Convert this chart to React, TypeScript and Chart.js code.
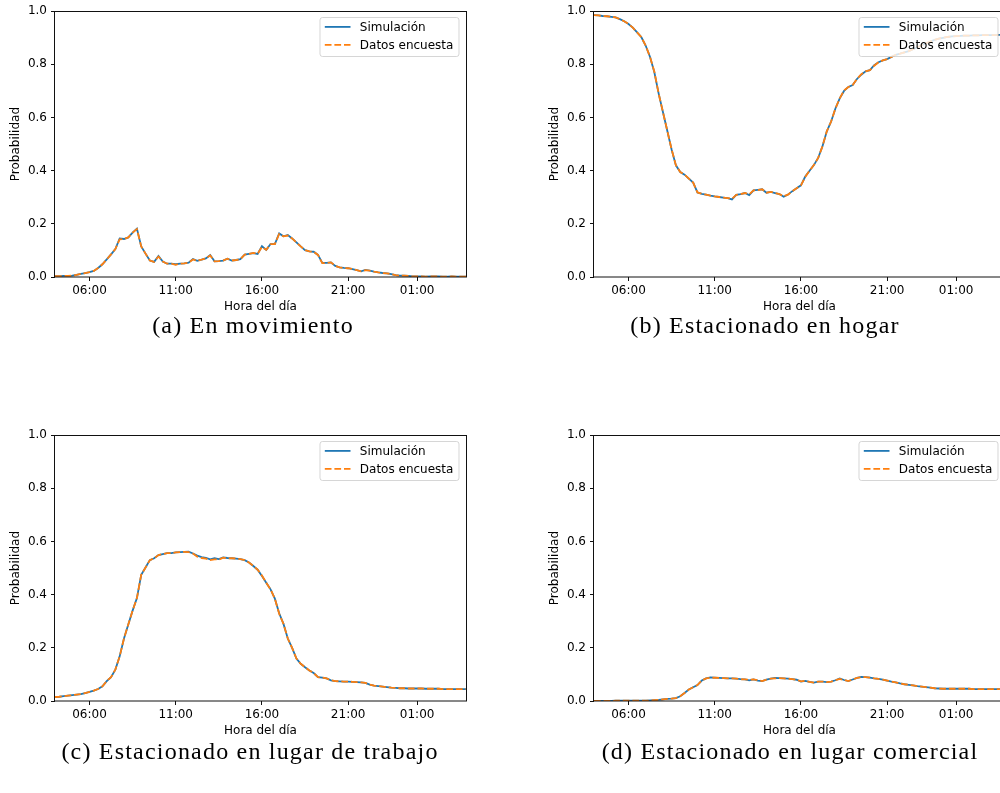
import React, { useEffect, useRef } from 'react';
import { Chart, registerables } from 'chart.js';
Chart.register(...registerables);

// ---------------- data ----------------
const TIME_LABELS = [
  '04:00','04:15','04:30','04:45','05:00','05:15','05:30','05:45',
  '06:00','06:15','06:30','06:45','07:00','07:15','07:30','07:45',
  '08:00','08:15','08:30','08:45','09:00','09:15','09:30','09:45',
  '10:00','10:15','10:30','10:45','11:00','11:15','11:30','11:45',
  '12:00','12:15','12:30','12:45','13:00','13:15','13:30','13:45',
  '14:00','14:15','14:30','14:45','15:00','15:15','15:30','15:45',
  '16:00','16:15','16:30','16:45','17:00','17:15','17:30','17:45',
  '18:00','18:15','18:30','18:45','19:00','19:15','19:30','19:45',
  '20:00','20:15','20:30','20:45','21:00','21:15','21:30','21:45',
  '22:00','22:15','22:30','22:45','23:00','23:15','23:30','23:45',
  '00:00','00:15','00:30','00:45','01:00','01:15','01:30','01:45',
  '02:00','02:15','02:30','02:45','03:00','03:15','03:30','03:45',
  '03:50',
];

const X_TICK_HOURS = [6, 11, 16, 21, 25];
const X_TICK_LABELS = ['06:00', '11:00', '16:00', '21:00', '01:00'];
const Y_TICKS = [0, 0.2, 0.4, 0.6, 0.8, 1.0];
const SERIES_NAMES = ['Simulación', 'Datos encuesta'];

// (a) En movimiento
const A_SIM = [
  0.003,0.003,0.004,0.004, 0.005,0.008,0.012,0.015,
  0.018,0.023,0.034,0.048, 0.066,0.085,0.105,0.145,
  0.143,0.149,0.167,0.182, 0.115,0.088,0.062,0.057,
  0.079,0.058,0.050,0.050, 0.048,0.050,0.051,0.054,
  0.068,0.061,0.065,0.070, 0.083,0.059,0.060,0.062,
  0.069,0.062,0.064,0.067, 0.084,0.087,0.090,0.087,
  0.116,0.102,0.124,0.124, 0.164,0.153,0.158,0.145,
  0.130,0.115,0.101,0.096, 0.095,0.083,0.053,0.053,
  0.055,0.042,0.036,0.034, 0.033,0.030,0.026,0.021,
  0.027,0.024,0.020,0.017, 0.015,0.014,0.011,0.007,
  0.005,0.005,0.004,0.002, 0.002,0.002,0.001,0.002,
  0.002,0.002,0.001,0.001, 0.002,0.001,0.001,0.001,
  0.001,
];
const A_ENC = [
  0.003,0.003,0.004,0.004, 0.005,0.008,0.012,0.015,
  0.018,0.023,0.034,0.048, 0.066,0.085,0.105,0.142,
  0.143,0.149,0.167,0.180, 0.115,0.088,0.062,0.057,
  0.077,0.058,0.050,0.050, 0.046,0.050,0.051,0.054,
  0.066,0.061,0.065,0.070, 0.081,0.059,0.060,0.062,
  0.069,0.062,0.064,0.067, 0.084,0.087,0.091,0.087,
  0.113,0.102,0.124,0.124, 0.162,0.153,0.156,0.145,
  0.130,0.115,0.101,0.096, 0.095,0.083,0.052,0.053,
  0.055,0.042,0.036,0.034, 0.033,0.030,0.026,0.021,
  0.026,0.024,0.020,0.017, 0.015,0.014,0.011,0.007,
  0.005,0.005,0.004,0.002, 0.002,0.002,0.001,0.002,
  0.002,0.002,0.001,0.001, 0.002,0.001,0.001,0.001,
  0.001,
];

// (b) Estacionado en hogar
const B_SIM = [
  0.985,0.984,0.982,0.981, 0.979,0.977,0.970,0.962,
  0.952,0.938,0.920,0.902, 0.870,0.828,0.770,0.690,
  0.620,0.550,0.480,0.420, 0.395,0.385,0.370,0.355,
  0.318,0.313,0.310,0.306, 0.303,0.301,0.299,0.297,
  0.292,0.309,0.312,0.316, 0.308,0.326,0.328,0.330,
  0.317,0.320,0.316,0.312, 0.302,0.310,0.323,0.334,
  0.345,0.378,0.400,0.421, 0.448,0.492,0.548,0.585,
  0.634,0.672,0.700,0.715, 0.722,0.745,0.761,0.774,
  0.778,0.797,0.808,0.815, 0.820,0.828,0.836,0.840,
  0.845,0.850,0.857,0.864, 0.872,0.879,0.886,0.892,
  0.897,0.900,0.903,0.905, 0.906,0.907,0.908,0.908,
  0.909,0.909,0.910,0.910, 0.910,0.910,0.911,0.911,
  0.911,
];
const B_ENC = [
  0.985,0.984,0.982,0.981, 0.979,0.977,0.970,0.962,
  0.952,0.938,0.920,0.902, 0.870,0.828,0.772,0.690,
  0.620,0.550,0.480,0.420, 0.395,0.385,0.370,0.355,
  0.318,0.313,0.310,0.306, 0.303,0.301,0.299,0.297,
  0.294,0.309,0.312,0.316, 0.311,0.326,0.327,0.330,
  0.317,0.320,0.316,0.312, 0.304,0.310,0.323,0.334,
  0.345,0.376,0.400,0.421, 0.448,0.492,0.548,0.585,
  0.634,0.672,0.702,0.715, 0.722,0.745,0.763,0.774,
  0.778,0.795,0.808,0.815, 0.820,0.828,0.836,0.840,
  0.845,0.850,0.857,0.864, 0.872,0.879,0.886,0.892,
  0.897,0.900,0.903,0.905, 0.906,0.907,0.908,0.908,
  0.909,0.909,0.910,0.910, 0.910,0.910,0.911,0.911,
  0.911,
];

// (c) Estacionado en lugar de trabajo
const C_SIM = [
  0.015,0.016,0.018,0.020, 0.022,0.024,0.026,0.030,
  0.034,0.039,0.045,0.055, 0.075,0.090,0.118,0.168,
  0.235,0.288,0.340,0.387, 0.475,0.502,0.530,0.537,
  0.549,0.553,0.556,0.556, 0.559,0.560,0.561,0.562,
  0.555,0.547,0.541,0.538, 0.533,0.537,0.534,0.540,
  0.538,0.537,0.536,0.534, 0.530,0.521,0.508,0.494,
  0.470,0.445,0.420,0.385, 0.330,0.290,0.235,0.200,
  0.160,0.140,0.127,0.115, 0.105,0.090,0.088,0.085,
  0.078,0.075,0.074,0.073, 0.073,0.072,0.071,0.070,
  0.068,0.062,0.058,0.056, 0.054,0.052,0.050,0.049,
  0.048,0.048,0.047,0.047, 0.047,0.047,0.046,0.046,
  0.046,0.046,0.045,0.045, 0.045,0.045,0.045,0.045,
  0.045,
];
const C_ENC = [
  0.015,0.016,0.018,0.020, 0.022,0.024,0.026,0.030,
  0.034,0.039,0.045,0.055, 0.075,0.090,0.118,0.168,
  0.235,0.288,0.340,0.387, 0.475,0.502,0.530,0.537,
  0.549,0.553,0.556,0.556, 0.559,0.560,0.561,0.560,
  0.555,0.543,0.538,0.536, 0.530,0.533,0.532,0.539,
  0.536,0.537,0.536,0.534, 0.530,0.521,0.508,0.494,
  0.472,0.445,0.420,0.385, 0.328,0.290,0.235,0.200,
  0.160,0.140,0.127,0.115, 0.105,0.090,0.088,0.085,
  0.078,0.075,0.074,0.073, 0.073,0.072,0.071,0.070,
  0.068,0.062,0.058,0.056, 0.054,0.052,0.050,0.049,
  0.048,0.048,0.047,0.047, 0.047,0.047,0.046,0.046,
  0.046,0.046,0.045,0.045, 0.045,0.045,0.045,0.045,
  0.045,
];

// (d) Estacionado en lugar comercial
const D_SIM = [
  0.000,0.000,0.000,0.000, 0.000,0.001,0.001,0.001,
  0.001,0.001,0.001,0.001, 0.001,0.002,0.003,0.004,
  0.006,0.008,0.009,0.011, 0.018,0.030,0.043,0.052,
  0.060,0.077,0.085,0.089, 0.088,0.087,0.086,0.085,
  0.085,0.084,0.082,0.081, 0.078,0.081,0.077,0.075,
  0.080,0.084,0.087,0.086, 0.085,0.084,0.082,0.080,
  0.073,0.076,0.072,0.069, 0.073,0.073,0.071,0.073,
  0.078,0.085,0.079,0.075, 0.081,0.087,0.091,0.090,
  0.088,0.085,0.083,0.080, 0.077,0.073,0.070,0.066,
  0.063,0.061,0.059,0.056, 0.054,0.052,0.050,0.048,
  0.047,0.046,0.046,0.046, 0.046,0.046,0.046,0.046,
  0.045,0.045,0.045,0.045, 0.045,0.045,0.045,0.045,
  0.045,
];
const D_ENC = [
  0.000,0.000,0.000,0.000, 0.000,0.001,0.001,0.001,
  0.001,0.001,0.001,0.001, 0.001,0.002,0.003,0.004,
  0.006,0.008,0.009,0.011, 0.018,0.030,0.043,0.052,
  0.060,0.077,0.085,0.087, 0.088,0.087,0.086,0.085,
  0.085,0.084,0.082,0.081, 0.080,0.081,0.078,0.075,
  0.080,0.084,0.085,0.086, 0.085,0.084,0.082,0.080,
  0.074,0.076,0.072,0.069, 0.073,0.073,0.071,0.073,
  0.078,0.083,0.079,0.075, 0.081,0.087,0.089,0.090,
  0.088,0.085,0.083,0.080, 0.077,0.073,0.070,0.066,
  0.063,0.061,0.059,0.056, 0.054,0.052,0.050,0.048,
  0.047,0.046,0.046,0.046, 0.046,0.046,0.046,0.046,
  0.045,0.045,0.045,0.045, 0.045,0.045,0.045,0.045,
  0.045,
];

// ---------------- layout / style ----------------
const FONT_FAMILY = '"DejaVu Sans", sans-serif';
const BLUE = '#1f77b4';
const ORANGE = '#ff7f0e';

const PANELS = [
  { key: 'a', sim: A_SIM, enc: A_ENC, left: 0, top: 0, caption: '(a) En movimiento', capX: 253, capY: 325 },
  { key: 'b', sim: B_SIM, enc: B_ENC, left: 539, top: 0, caption: '(b) Estacionado en hogar', capX: 765, capY: 325 },
  { key: 'c', sim: C_SIM, enc: C_ENC, left: 0, top: 424, caption: '(c) Estacionado en lugar de trabajo', capX: 250, capY: 751 },
  { key: 'd', sim: D_SIM, enc: D_ENC, left: 539, top: 424, caption: '(d) Estacionado en lugar comercial', capX: 790, capY: 751 },
];

const toHour = (s: string) => {
  const [h, m] = s.split(':').map(Number);
  let v = h + m / 60;
  if (v < 4) v += 24;
  return v;
};

const framePlugin = {
  id: 'mplFrame',
  afterDatasetsDraw(chart: any) {
    const { ctx, chartArea: a } = chart;
    ctx.save();
    ctx.strokeStyle = '#111';
    ctx.lineWidth = 1;
    ctx.strokeRect(Math.round(a.left) - 0.5, Math.round(a.top) + 0.5, Math.round(a.right - a.left) + 1, Math.round(a.bottom - a.top) - 0.5);
    ctx.restore();
  },
};

const legendPlugin = {
  id: 'mplLegend',
  afterDraw(chart: any) {
    const { ctx, chartArea: a } = chart;
    const w = 139, h = 39;
    const x0 = a.right - 7 - w;
    const y0 = a.top + 6.3;
    ctx.save();
    // frame
    const r = 2.5;
    ctx.beginPath();
    ctx.moveTo(x0 + r, y0);
    ctx.lineTo(x0 + w - r, y0);
    ctx.arcTo(x0 + w, y0, x0 + w, y0 + r, r);
    ctx.lineTo(x0 + w, y0 + h - r);
    ctx.arcTo(x0 + w, y0 + h, x0 + w - r, y0 + h, r);
    ctx.lineTo(x0 + r, y0 + h);
    ctx.arcTo(x0, y0 + h, x0, y0 + h - r, r);
    ctx.lineTo(x0, y0 + r);
    ctx.arcTo(x0, y0, x0 + r, y0, r);
    ctx.closePath();
    ctx.fillStyle = 'rgba(255,255,255,0.8)';
    ctx.fill();
    ctx.strokeStyle = 'rgba(204,204,204,0.8)';
    ctx.lineWidth = 1;
    ctx.stroke();
    // entries
    const datasets = chart.data.datasets;
    ctx.font = `12px ${FONT_FAMILY}`;
    ctx.textBaseline = 'middle';
    ctx.textAlign = 'left';
    datasets.forEach((ds: any, i: number) => {
      const yy = y0 + 9.4 + i * 18;
      ctx.beginPath();
      ctx.strokeStyle = ds.borderColor;
      ctx.lineWidth = ds.borderWidth;
      ctx.setLineDash(ds.borderDash || []);
      ctx.moveTo(x0 + 4.8, yy);
      ctx.lineTo(x0 + 30.5, yy);
      ctx.stroke();
      ctx.setLineDash([]);
      ctx.fillStyle = '#000';
      ctx.fillText(ds.label, x0 + 39.8, yy + 0.5);
    });
    ctx.restore();
  },
};

function makeConfig(sim: number[], enc: number[]): any {
  const xs = TIME_LABELS.map(toHour);
  const font = { family: FONT_FAMILY, size: 12 };
  const grid = { drawOnChartArea: false, drawTicks: true, tickLength: 4, tickColor: '#111', lineWidth: 1 };
  return {
    type: 'line',
    data: {
      datasets: [
        {
          label: SERIES_NAMES[0],
          data: xs.map((x, i) => ({ x, y: sim[i] })),
          borderColor: BLUE,
          borderWidth: 1.8,
          pointRadius: 0,
          fill: false,
          tension: 0,
          order: 1,
        },
        {
          label: SERIES_NAMES[1],
          data: xs.map((x, i) => ({ x, y: enc[i] })),
          borderColor: ORANGE,
          borderWidth: 1.8,
          borderDash: [6.7, 2.9],
          pointRadius: 0,
          fill: false,
          tension: 0,
          order: 0,
        },
      ],
    },
    options: {
      responsive: false,
      animation: false,
      events: [],
      layout: { padding: { top: 11, right: 14, left: 0, bottom: 0 } },
      plugins: { legend: { display: false }, tooltip: { enabled: false } },
      scales: {
        x: {
          type: 'linear',
          min: xs[0],
          max: xs[xs.length - 1],
          afterBuildTicks: (s: any) => { s.ticks = X_TICK_HOURS.map((v) => ({ value: v })); },
          afterFit: (s: any) => { s.height = 43; },
          ticks: {
            autoSkip: false,
            maxRotation: 0,
            padding: 3,
            color: '#000',
            font,
            callback: (v: number) => X_TICK_LABELS[X_TICK_HOURS.indexOf(v)],
          },
          grid,
          border: { display: false },
          title: { display: true, text: 'Hora del día', color: '#000', font, padding: { top: 0, bottom: 6 } },
        },
        y: {
          type: 'linear',
          min: 0,
          max: 1,
          afterBuildTicks: (s: any) => { s.ticks = Y_TICKS.map((v) => ({ value: v })); },
          afterFit: (s: any) => { s.width = 55; },
          ticks: {
            autoSkip: false,
            padding: 4,
            color: '#000',
            font,
            callback: (v: number) => v.toFixed(1),
          },
          grid,
          border: { display: false },
          title: { display: true, text: 'Probabilidad', color: '#000', font, padding: { top: 9, bottom: 0 } },
        },
      },
    },
    plugins: [framePlugin, legendPlugin],
  };
}

function Panel({ sim, enc, left, top }: { sim: number[]; enc: number[]; left: number; top: number }) {
  const ref = useRef<HTMLCanvasElement | null>(null);
  useEffect(() => {
    if (!ref.current) return;
    const chart = new Chart(ref.current, makeConfig(sim, enc));
    return () => chart.destroy();
  }, [sim, enc]);
  return (
    <canvas
      ref={ref}
      width={480}
      height={320}
      style={{ position: 'absolute', left, top, width: 480, height: 320 }}
    />
  );
}

export default function App() {
  return (
    <div
      style={{
        position: 'absolute',
        left: 0,
        top: 0,
        width: 1000,
        height: 793,
        overflow: 'hidden',
        background: '#fff',
      }}
    >
      {PANELS.map((p) => (
        <Panel key={p.key} sim={p.sim} enc={p.enc} left={p.left} top={p.top} />
      ))}
      {PANELS.map((p) => (
        <div
          key={'cap' + p.key}
          style={{
            position: 'absolute',
            left: p.capX - 250,
            top: p.capY - 15,
            width: 500,
            height: 30,
            lineHeight: '30px',
            textAlign: 'center',
            fontFamily: '"Liberation Serif", serif',
            fontSize: 24,
            letterSpacing: 1.2,
            color: '#000',
            whiteSpace: 'nowrap',
          }}
        >
          {p.caption}
        </div>
      ))}
    </div>
  );
}
